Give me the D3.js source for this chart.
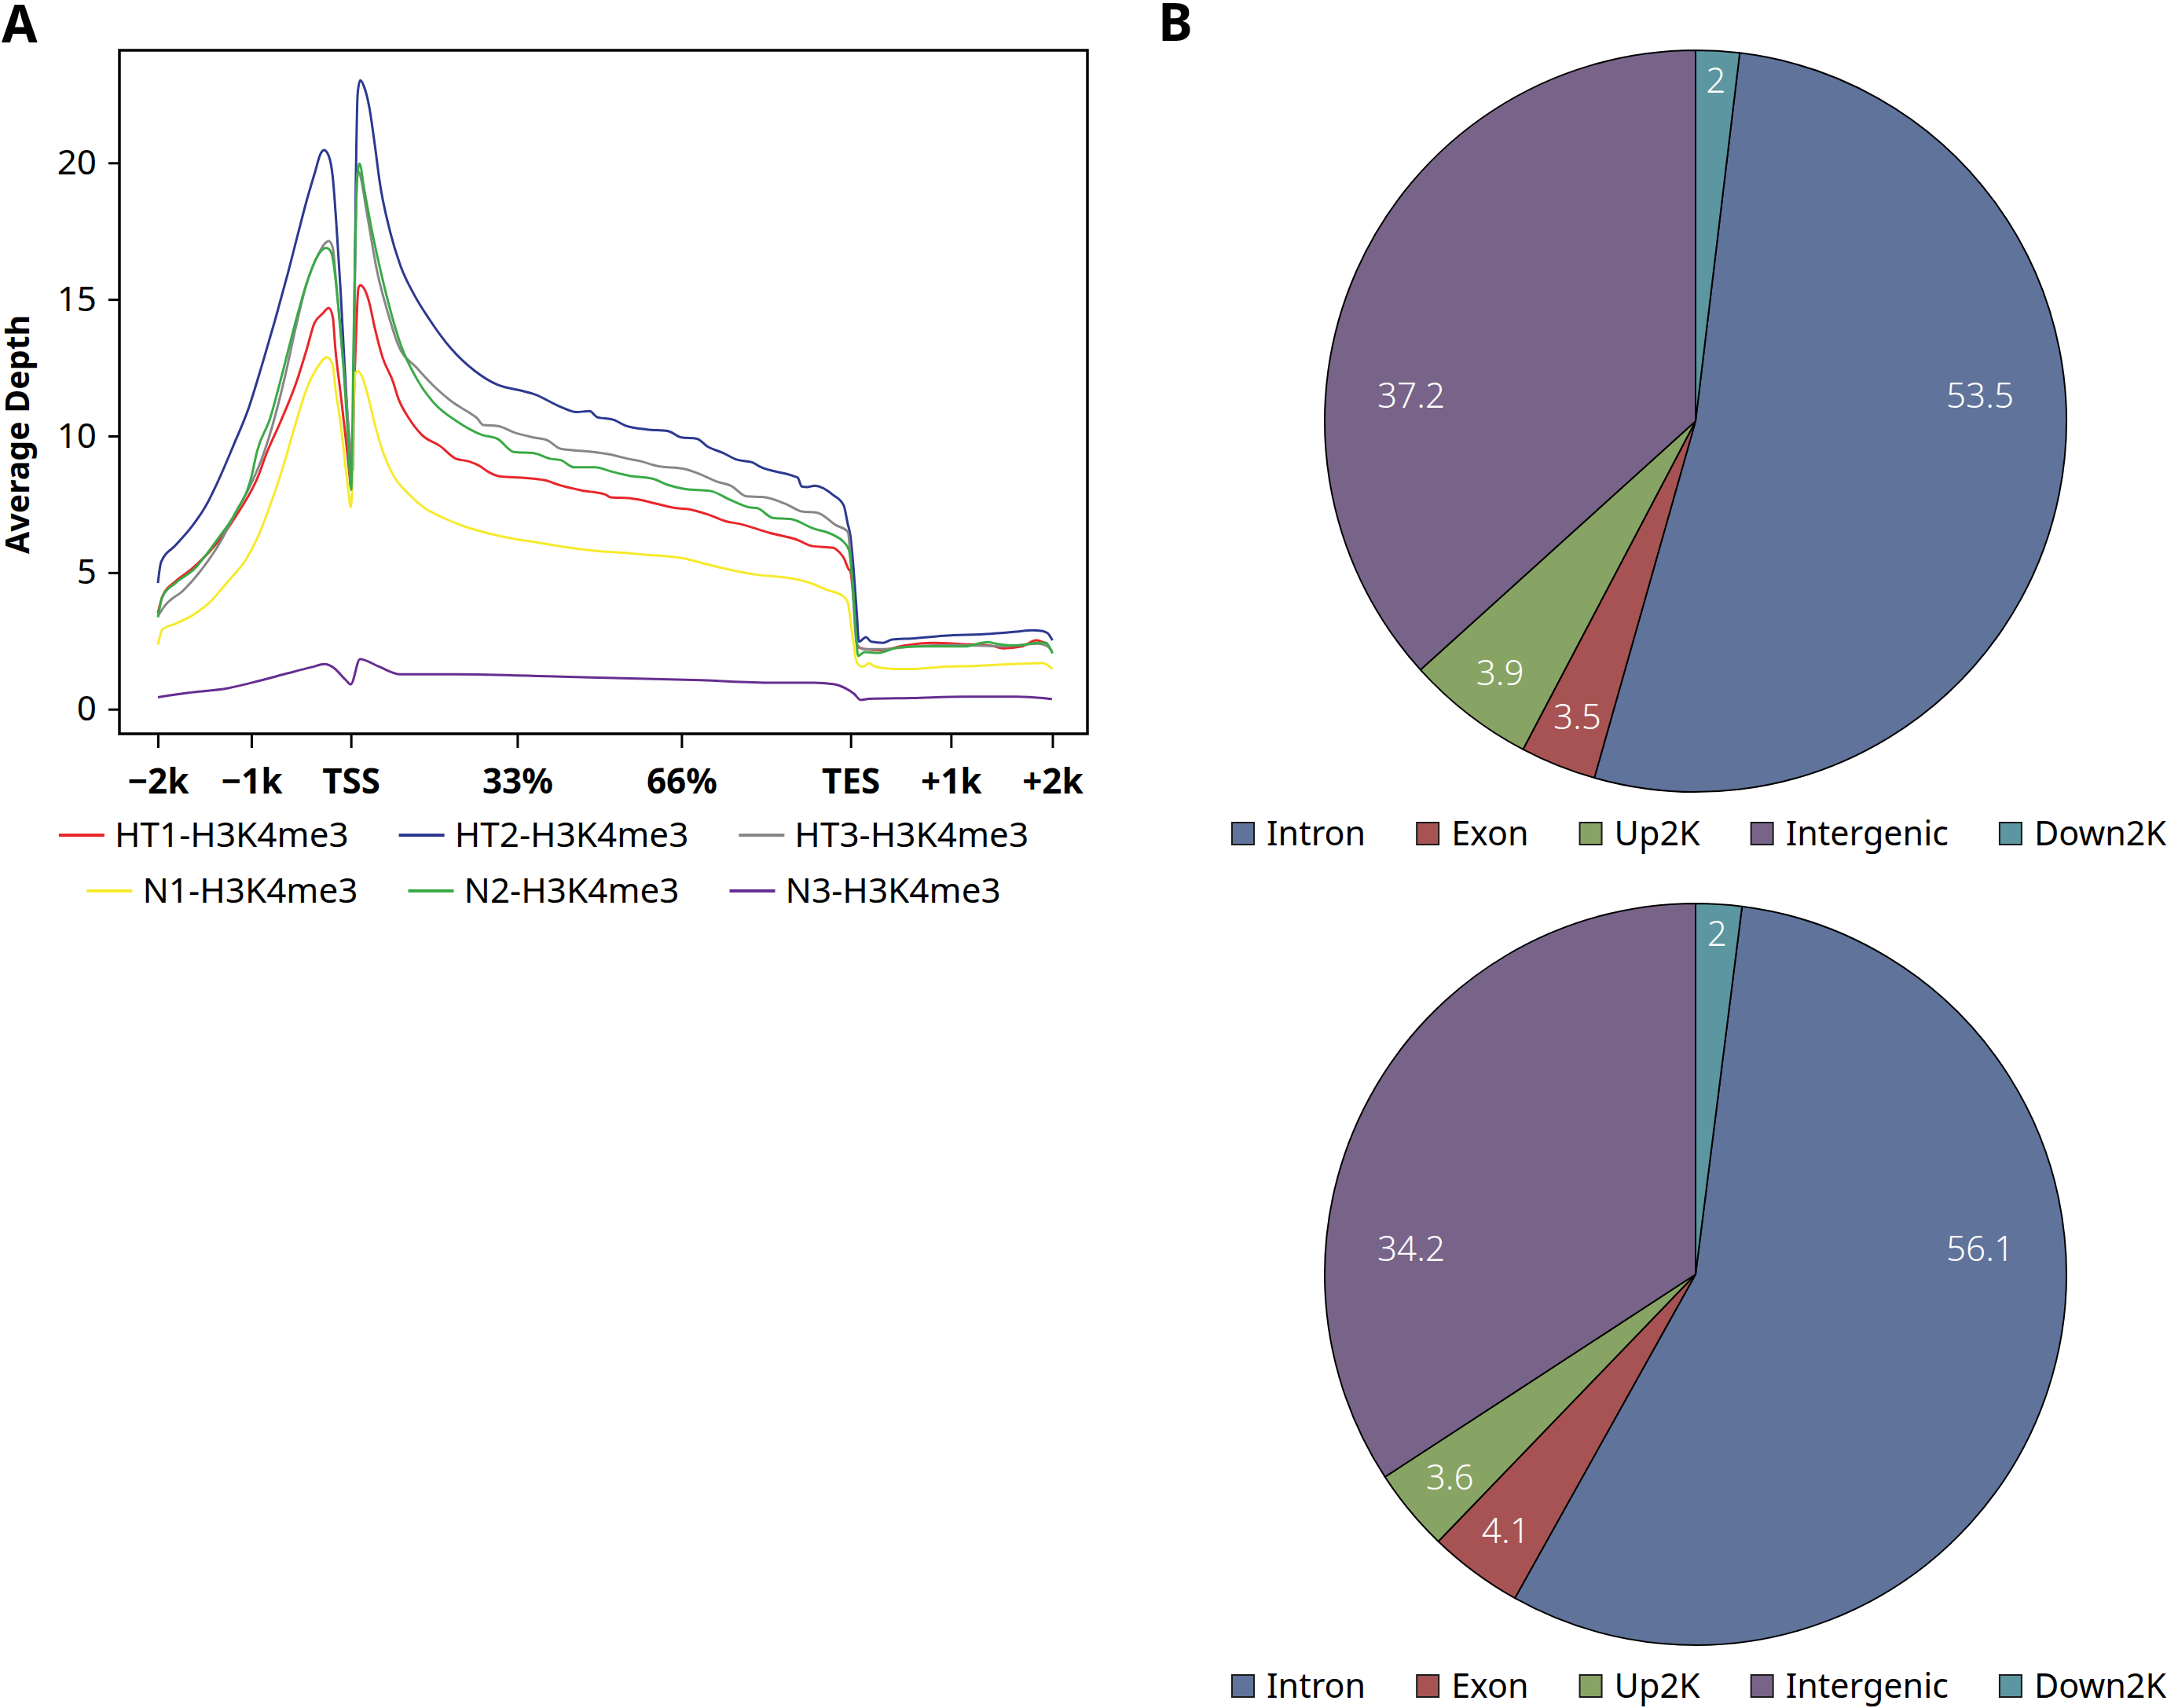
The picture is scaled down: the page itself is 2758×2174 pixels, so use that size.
<!DOCTYPE html>
<html><head><meta charset="utf-8">
<script src="https://cdn.jsdelivr.net/npm/d3@7"></script>
<style>
html,body{margin:0;padding:0;background:#fff;}
svg{display:block;}
text{font-family:"Noto Sans","Open Sans",sans-serif;}
</style></head><body>
<svg id="chart" width="2758" height="2174"></svg>
<script>
// ---------- Panel A data (x: -2k=0 ... +2k=9, gene body scaled; y: average depth) ----------
const seriesNames = ["HT1-H3K4me3","HT2-H3K4me3","HT3-H3K4me3","N1-H3K4me3","N2-H3K4me3","N3-H3K4me3"];
const seriesColors = ["#e8262a","#2b3990","#878787","#f6ea2c","#3aaa47","#662d91"];

const HT1 = [[0,3.52],[0.046,4.13],[0.177,4.68],[0.335,5.12],[0.6,6.11],[0.81,7.21],[1.021,8.64],[1.074,9.19],[1.232,10.51],[1.39,11.94],[1.495,13.15],[1.575,14.14],[1.654,14.47],[1.719,14.69],[1.759,14.36],[1.785,13.2],[1.838,11.55],[1.89,9.9],[1.93,8.47],[1.938,8.14],[1.983,12.65],[2.017,15.41],[2.036,15.52],[2.088,15.3],[2.128,14.86],[2.181,13.97],[2.26,12.88],[2.365,11.99],[2.418,11.38],[2.523,10.66],[2.656,10.04],[2.84,9.63],[2.998,9.17],[3.13,9.07],[3.235,8.91],[3.314,8.71],[3.446,8.52],[3.684,8.47],[3.894,8.38],[4.052,8.19],[4.263,8.01],[4.5,7.86],[4.553,7.76],[4.738,7.73],[4.843,7.67],[5.028,7.51],[5.212,7.36],[5.344,7.32],[5.555,7.1],[5.713,6.88],[5.845,6.79],[6.161,6.45],[6.425,6.21],[6.583,5.97],[6.794,5.91],[6.847,5.78],[6.9,5.54],[6.952,5.11],[6.966,5.06],[7.005,3.72],[7.037,2.28],[7.137,2.19],[7.268,2.16],[7.506,2.33],[7.796,2.43],[8.112,2.38],[8.376,2.33],[8.508,2.23],[8.692,2.3],[8.837,2.52],[8.9,2.46],[8.95,2.4]];
const HT2 = [[0,4.62],[0.032,5.39],[0.177,6.0],[0.335,6.66],[0.48,7.43],[0.6,8.31],[0.757,9.63],[0.916,11.06],[1.047,12.6],[1.179,14.25],[1.311,16.01],[1.416,17.5],[1.495,18.6],[1.575,19.59],[1.64,20.36],[1.672,20.47],[1.719,20.25],[1.759,19.48],[1.798,17.61],[1.838,15.3],[1.877,12.65],[1.955,8.9],[1.975,14.0],[1.991,19.26],[2.01,22.56],[2.036,23.02],[2.075,22.78],[2.128,22.01],[2.181,20.69],[2.233,19.26],[2.339,17.44],[2.444,16.2],[2.577,15.18],[2.735,14.25],[2.945,13.22],[3.182,12.4],[3.42,11.87],[3.657,11.66],[3.789,11.53],[4.052,11.07],[4.21,10.88],[4.343,10.91],[4.42,10.69],[4.58,10.6],[4.712,10.37],[4.922,10.24],[5.133,10.18],[5.265,9.95],[5.423,9.9],[5.528,9.62],[5.687,9.38],[5.819,9.14],[5.977,9.04],[6.056,8.88],[6.399,8.53],[6.438,8.47],[6.478,8.15],[6.53,8.13],[6.61,8.18],[6.794,7.84],[6.9,7.46],[6.94,6.79],[6.965,6.4],[7.031,3.53],[7.052,2.47],[7.124,2.64],[7.176,2.47],[7.295,2.43],[7.387,2.55],[7.585,2.59],[7.901,2.69],[8.376,2.76],[8.64,2.84],[8.797,2.89],[8.9,2.86],[8.953,2.78],[9.0,2.52]];
const HT3 = [[0,3.41],[0.072,3.8],[0.256,4.35],[0.441,5.12],[0.626,6.11],[0.784,7.21],[0.916,8.09],[1.047,9.19],[1.179,10.73],[1.284,12.27],[1.39,14.03],[1.495,15.57],[1.601,16.56],[1.719,17.14],[1.759,16.89],[1.785,15.96],[1.838,13.76],[1.89,11.55],[1.943,9.35],[1.965,8.75],[1.983,15.96],[2.01,19.7],[2.03,19.6],[2.102,18.16],[2.207,16.0],[2.312,14.53],[2.418,13.33],[2.603,12.5],[2.787,11.79],[2.972,11.22],[3.13,10.86],[3.209,10.66],[3.275,10.4],[3.42,10.37],[3.578,10.14],[3.789,9.94],[3.921,9.84],[4.052,9.53],[4.369,9.42],[4.58,9.3],[4.725,9.17],[4.843,9.09],[5.028,8.9],[5.292,8.8],[5.45,8.61],[5.634,8.32],[5.766,8.18],[5.924,7.79],[6.082,7.77],[6.319,7.51],[6.478,7.24],[6.636,7.19],[6.82,6.74],[6.94,6.5],[6.98,5.0],[7.03,2.4],[7.1,2.2],[7.3,2.2],[7.6,2.3],[8.0,2.35],[8.5,2.3],[8.85,2.4],[8.95,2.3],[9.0,2.1]];
const N1 = [[0,2.36],[0.046,2.92],[0.177,3.13],[0.335,3.41],[0.52,3.91],[0.705,4.68],[0.889,5.5],[0.995,6.22],[1.126,7.43],[1.258,8.86],[1.39,10.51],[1.495,11.72],[1.601,12.49],[1.701,12.88],[1.759,12.6],[1.785,11.77],[1.838,10.45],[1.89,8.8],[1.925,7.7],[1.938,7.39],[1.957,8.25],[1.97,11.55],[1.991,12.32],[2.01,12.38],[2.062,12.1],[2.115,11.44],[2.181,10.45],[2.26,9.46],[2.365,8.58],[2.523,7.88],[2.682,7.37],[2.84,7.06],[3.077,6.7],[3.314,6.45],[3.578,6.24],[3.842,6.09],[4.105,5.93],[4.369,5.81],[4.738,5.71],[4.896,5.66],[5.292,5.52],[5.476,5.35],[5.687,5.16],[6.03,4.92],[6.319,4.82],[6.557,4.63],[6.715,4.39],[6.9,4.12],[6.94,3.91],[6.992,2.57],[7.031,1.71],[7.084,1.56],[7.124,1.61],[7.15,1.69],[7.216,1.56],[7.4,1.47],[7.585,1.47],[7.848,1.54],[8.243,1.59],[8.64,1.66],[8.9,1.69],[8.953,1.61],[9.0,1.47]];
const N2 = [[0,3.36],[0.046,4.13],[0.177,4.62],[0.362,5.12],[0.6,6.22],[0.784,7.21],[0.942,8.53],[0.995,9.41],[1.126,10.62],[1.258,12.38],[1.39,14.25],[1.495,15.57],[1.601,16.56],[1.693,16.89],[1.733,16.79],[1.759,16.5],[1.812,14.86],[1.865,12.65],[1.904,10.45],[1.936,8.36],[1.944,8.03],[1.97,13.76],[2.002,19.26],[2.028,19.97],[2.075,19.04],[2.154,17.5],[2.26,15.74],[2.312,14.97],[2.444,13.33],[2.603,12.1],[2.787,11.17],[2.998,10.56],[3.261,10.04],[3.42,9.89],[3.578,9.42],[3.789,9.37],[3.947,9.17],[4.052,9.12],[4.184,8.86],[4.395,8.86],[4.553,8.71],[4.738,8.55],[4.975,8.44],[5.133,8.21],[5.317,8.05],[5.555,7.99],[5.766,7.65],[5.95,7.39],[6.03,7.36],[6.188,7.0],[6.372,6.96],[6.583,6.63],[6.794,6.38],[6.9,6.12],[6.952,5.83],[6.992,4.49],[7.018,3.05],[7.045,1.95],[7.11,2.09],[7.242,2.06],[7.453,2.26],[7.717,2.3],[8.112,2.3],[8.35,2.46],[8.429,2.4],[8.64,2.33],[8.851,2.43],[8.93,2.43],[9.0,2.04]];
const N3 = [[0,0.44],[0.309,0.6],[0.705,0.77],[1.021,1.04],[1.311,1.32],[1.548,1.54],[1.68,1.65],[1.759,1.54],[1.89,1.07],[1.94,0.91],[2.033,1.83],[2.223,1.56],[2.437,1.28],[3.0,1.28],[4.06,1.19],[5.47,1.06],[6.18,0.97],[6.6,0.97],[6.794,0.92],[6.926,0.75],[7.005,0.56],[7.071,0.34],[7.15,0.38],[7.585,0.41],[8.112,0.46],[8.64,0.46],[8.9,0.41],[8.995,0.37]];
const seriesData = [HT1, HT2, HT3, N1, N2, N3];

const xTickLabels = ["\u22122k","\u22121k","TSS","33%","66%","TES","+1k","+2k"];
const xTickPositions = [0, 0.94, 1.942, 3.616, 5.268, 6.97, 7.979, 9];
const yTicks = [0, 5, 10, 15, 20];

// ---------- Panel B data ----------
const pieCategories = ["Intron","Exon","Up2K","Intergenic","Down2K"];
// printed labels
const pie1Labels = [53.5, 3.5, 3.9, 37.2, 2];
const pie2Labels = [56.1, 4.1, 3.6, 34.2, 2];
// slice sizes as drawn in the picture (%)
const pie1Shares = [52.5, 3.3, 5.6, 36.7, 1.9];
const pie2Shares = [56.1, 4.1, 3.6, 34.2, 2];
const pieColors = ["#60739a","#a75353","#88a464","#796489","#5c96a0"];

// ---------- drawing ----------
const svg = d3.select("#chart");
svg.append("rect").attr("width",2758).attr("height",2174).attr("fill","#fff");

const frame = {left:152, right:1384, top:64, bottom:934};
const x = d3.scaleLinear().domain([0, 9]).range([201, 1339.5]);
const y = d3.scaleLinear().domain([0, 20]).range([902.7, 207.3]);

// panel letters
svg.append("text").attr("x",2).attr("y",54).attr("font-size",66).attr("font-weight",700).text("A");
svg.append("text").attr("x",1474).attr("y",52).attr("font-size",66).attr("font-weight",700).text("B");

// x axis
const gx = svg.append("g").attr("transform",`translate(0,${frame.bottom})`)
  .call(d3.axisBottom(x).tickValues(xTickPositions).tickFormat((d,i)=>xTickLabels[i]).tickSize(18));
gx.select(".domain").remove();
gx.selectAll(".tick line").attr("stroke","#000").attr("stroke-width",3);
gx.selectAll(".tick text").attr("y",76).attr("dy",null).attr("font-size",44).attr("font-weight",700)
  .attr("fill","#000").attr("font-family","'Noto Sans',sans-serif");

// y axis
const gy = svg.append("g").attr("transform",`translate(${frame.left},0)`)
  .call(d3.axisLeft(y).tickValues(yTicks).tickSize(14).tickPadding(15));
gy.select(".domain").remove();
gy.selectAll(".tick line").attr("stroke","#000").attr("stroke-width",3);
gy.selectAll(".tick text").attr("font-size",44).attr("fill","#000").attr("font-family","'Noto Sans',sans-serif");

svg.append("text").attr("transform","translate(37,553) rotate(-90)").attr("text-anchor","middle")
  .attr("font-size",41).attr("font-weight",700).text("Average Depth");

// lines
const line = d3.line().x(d=>x(d[0])).y(d=>y(d[1])).curve(d3.curveMonotoneX);
svg.append("g").selectAll("path").data(seriesData).join("path")
  .attr("d", line).attr("fill","none").attr("stroke",(d,i)=>seriesColors[i])
  .attr("stroke-width",3).attr("stroke-linejoin","round");

// frame
svg.append("rect").attr("x",frame.left).attr("y",frame.top)
  .attr("width",frame.right-frame.left).attr("height",frame.bottom-frame.top)
  .attr("fill","none").attr("stroke","#000").attr("stroke-width",3.5);

// legend A
const legRows = [[0,1,2],[3,4,5]];
const legY = [1063, 1134];
legRows.forEach((row, ri) => {
  const g = svg.append("g");
  let cx = 0;
  row.forEach((si, k) => {
    g.append("line").attr("x1",cx).attr("x2",cx+58).attr("y1",0).attr("y2",0)
      .attr("stroke",seriesColors[si]).attr("stroke-width",4);
    const t = g.append("text").attr("x",cx+71).attr("y",0).attr("dy","0.35em")
      .attr("font-size",44).text(seriesNames[si]);
    cx += 71 + t.node().getComputedTextLength() + (k < row.length-1 ? 64 : 0);
  });
  g.attr("transform",`translate(${692 - cx/2},${legY[ri]})`);
});

// pies
const R = 472;
function drawPie(shares, labels, cx, cy, legendY) {
  const total = d3.sum(shares);
  const offset = 2*Math.PI*shares[4]/total;
  const pie = d3.pie().sort(null).startAngle(offset).endAngle(offset + 2*Math.PI);
  const arcs = pie(shares);
  const arc = d3.arc().innerRadius(0).outerRadius(R);
  const g = svg.append("g").attr("transform",`translate(${cx},${cy})`);
  g.selectAll("path").data(arcs).join("path").attr("d",arc)
    .attr("fill",(d,i)=>pieColors[i]).attr("stroke","#000").attr("stroke-width",2).attr("stroke-linejoin","round");
  g.selectAll("text").data(arcs).join("text")
    .attr("transform", d => {
      const mid = (d.startAngle + d.endAngle)/2;
      const share = d.value/total;
      if (share > 0.2) {
        const s = Math.sin(mid) >= 0 ? 1 : -1;
        return `translate(${s*0.767*R},${-0.068*R})`;
      }
      const rr = share < 0.03 ? 0.92*R : 0.86*R;
      return `translate(${Math.sin(mid)*rr},${-Math.cos(mid)*rr})`;
    })
    .attr("text-anchor","middle").attr("dy","0.35em").attr("fill","#fff")
    .attr("font-size",44).attr("font-weight",300).text((d,i) => labels[i]);
  // legend
  const lg = svg.append("g").attr("transform",`translate(1568,${legendY})`);
  let lx = 0;
  pieCategories.forEach((c, i) => {
    lg.append("rect").attr("x",lx).attr("y",-14).attr("width",28).attr("height",28)
      .attr("fill",pieColors[i]).attr("stroke","#1a1a1a").attr("stroke-width",2);
    const t = lg.append("text").attr("x",lx+44).attr("y",0).attr("dy","0.35em")
      .attr("font-size",43).text(c);
    lx += 44 + t.node().getComputedTextLength() + 65;
  });
}
drawPie(pie1Shares, pie1Labels, 2158, 536, 1061);
drawPie(pie2Shares, pie2Labels, 2158, 1622, 2146);
</script>
</body></html>
